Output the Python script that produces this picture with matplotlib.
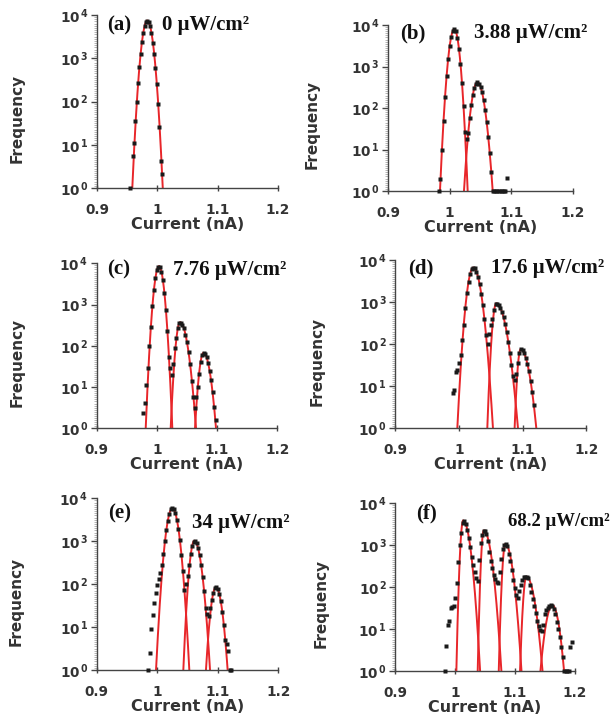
import numpy as np
import matplotlib
matplotlib.use("Agg")
import matplotlib.pyplot as plt
from matplotlib.ticker import MultipleLocator

nan = np.nan

# ---------------- data (log10 of frequency) ----------------
# dots: bins start at X0 with constant width STEP
A_X0, A_STEP = 0.9548, 0.0022
A_Y = [0.0, nan, 0.75, 1.05, 1.55, 2.0, 2.42, 2.80, 3.10, 3.38, 3.58, 3.74, 3.83, 3.86,
       3.83, 3.74, 3.58, 3.36, 3.10, 2.78, 2.40, 1.95, 1.40, 0.62, 0.32]

B_X0, B_STEP = 0.9825, 0.0025
B_Y = [0.0, 0.30, 1.00, 1.68, 2.27, 2.77, 3.17, 3.49, 3.72, 3.85, 3.90, 3.85, 3.69, 3.43,
       3.07, 2.60, 2.04, 1.42, 1.25, 1.40, 1.76, 2.07, 2.31, 2.48, 2.59, 2.62, 2.59, 2.51,
       2.38, 2.19, 1.95, 1.66, 1.31, 0.92, 0.46, 0.0, 0.0, 0.0, 0.0, 0.0, 0.0, 0.0, 0.0,
       0.0, 0.32]

C_X0, C_STEP = 0.9775, 0.0025
C_Y = [0.36, 0.62, 1.05, 1.45, 2.00, 2.46, 2.96, 3.35, 3.64, 3.83, 3.92, 3.91, 3.80, 3.59,
       3.28, 2.87, 2.36, 1.74, 1.45, 1.30, 1.55, 1.95, 2.20, 2.44, 2.56, 2.56, 2.51, 2.42,
       2.27, 2.09, 1.85, 1.57, 1.15, 0.75, 0.50, 0.75, 1.00, 1.32, 1.60, 1.77, 1.83, 1.80,
       1.72, 1.59, 1.40, 1.16, 0.87, 0.52, 0.20]

D_X0, D_STEP = 0.9900, 0.0025
D_Y = [0.85, 0.92, 1.33, 1.38, 1.55, 1.75, 2.10, 2.46, 2.87, 3.21, 3.48, 3.67, 3.78, 3.82,
       3.80, 3.72, 3.59, 3.42, 3.19, 2.92, 2.60, 2.22, 2.00, 2.25, 2.45, 2.60, 2.80, 2.95,
       2.96, 2.93, 2.86, 2.77, 2.64, 2.48, 2.28, 2.06, 1.80, 1.51, 1.25, 1.15, 1.30, 1.55,
       1.80, 1.88, 1.85, 1.78, 1.68, 1.53, 1.35, 1.12, 0.86, 0.56]

E_X0, E_STEP = 0.9850, 0.0025
E_Y = [0.00, 0.40, 0.95, 1.28, 1.55, 1.80, 1.98, 2.12, 2.25, 2.45, 2.70, 3.00, 3.25, 3.48,
       3.64, 3.74, 3.77, 3.74, 3.65, 3.50, 3.29, 3.02, 2.69, 2.30, 1.87, 2.00, 2.20, 2.45,
       2.70, 2.88, 2.99, 3.00, 2.95, 2.84, 2.67, 2.45, 2.17, 1.83, 1.44, 1.30, 1.25, 1.45,
       1.62, 1.79, 1.90, 1.93, 1.88, 1.77, 1.60, 1.36, 1.05, 0.69, 0.60, 0.45, 0.00, 0.00]

F_X0, F_STEP = 0.9825, 0.0025
F_Y = [0.00, 0.60, 1.10, 1.20, 1.50, 1.52, 1.55, 1.75, 2.10, 2.60, 3.00, 3.30, 3.52, 3.58,
       3.50, 3.36, 3.17, 2.96, 2.72, 2.52, 2.35, 2.22, 2.15, 2.65, 3.05, 3.25, 3.34, 3.33,
       3.27, 3.10, 2.85, 2.62, 2.45, 2.30, 2.20, 2.12, 2.10, 2.35, 2.68, 2.90, 3.00, 3.03,
       2.98, 2.80, 2.62, 2.40, 2.18, 1.98, 1.82, 1.75, 1.90, 2.05, 2.18, 2.24, 2.25, 2.24,
       2.22, 2.05, 1.88, 1.72, 1.55, 1.38, 1.20, 1.08, 0.98, 0.95, 1.10, 1.35, 1.45, 1.50,
       1.54, 1.57, 1.56, 1.48, 1.36, 1.18, 1.00, 0.82, 0.58, 0.34, 0.00, 0.00, 0.00, 0.00,
       0.58, 0.70]

# fitted peaks: centre, log10 height, left half-width, right half-width (at 10^0)
A_PEAKS = [(0.9834, 3.87, 0.0249, 0.0256)]
B_PEAKS = [(1.0075, 3.90, 0.0232, 0.0217), (1.0450, 2.62, 0.0218, 0.0248)]
C_PEAKS = [(1.0035, 3.93, 0.0221, 0.0221), (1.0385, 2.57, 0.0156, 0.0265),
           (1.0775, 1.83, 0.0142, 0.0207)]
D_PEAKS = [(1.0225, 3.82, 0.0251, 0.0309), (1.0586, 2.97, 0.0141, 0.0341),
           (1.0969, 1.88, 0.0095, 0.0246)]
E_PEAKS = [(1.0250, 3.77, 0.0270, 0.0280), (1.0613, 3.01, 0.0182, 0.0259),
           (1.0970, 1.93, 0.0165, 0.0193)]
F_PEAKS = [(1.0135, 3.59, 0.0114, 0.0283), (1.0480, 3.35, 0.0102, 0.0294),
           (1.0840, 3.03, 0.0110, 0.0270), (1.1192, 2.25, 0.0106, 0.0270),
           (1.1627, 1.57, 0.0200, 0.0195)]

LETTERS = ["(a)", "(b)", "(c)", "(d)", "(e)", "(f)"]
INTENSITY = ["0 μW/cm²", "3.88 μW/cm²", "7.76 μW/cm²", "17.6 μW/cm²",
             "34 μW/cm²", "68.2 μW/cm²"]
X_TICKS = [0.9, 1.0, 1.1, 1.2]
X_TICKLABELS = ["0.9", "1", "1.1", "1.2"]
Y_TICKS = [0, 1, 2, 3, 4]

# ---------------- layout ----------------
W, H = 616, 724
boxes = [(97, 15, 278, 188), (388, 25, 573, 191),
         (96.7, 263.3, 277.3, 428.3), (395.3, 260, 586.3, 428.3),
         (96.7, 498.3, 278.3, 670), (395.3, 503.3, 574.7, 671)]
letter_pos = [(0.055, 0.94), (0.063, 0.95), (0.055, 0.96), (0.066, 0.95), (0.064, 0.91), (0.117, 0.94)]
intens_pos = [(0.36, 0.94), (0.463, 0.95), (0.424, 0.96), (0.50, 0.95), (0.523, 0.855), (0.63, 0.89)]
intens_size = [15, 15, 15, 15, 15, 13.5]
ylab_x = [-0.40, -0.37, -0.40, -0.37, -0.40, -0.37]

panels = [(A_X0, A_STEP, A_Y, A_PEAKS), (B_X0, B_STEP, B_Y, B_PEAKS),
          (C_X0, C_STEP, C_Y, C_PEAKS), (D_X0, D_STEP, D_Y, D_PEAKS),
          (E_X0, E_STEP, E_Y, E_PEAKS), (F_X0, F_STEP, F_Y, F_PEAKS)]

plt.rcParams["mathtext.fontset"] = "dejavusans"
fig = plt.figure(figsize=(W / 100, H / 100), dpi=100)
TXT = "#333333"
RED = "#e8262a"

for k, ((x0, st, ys, peaks), (l, t, r, b)) in enumerate(zip(panels, boxes)):
    ax = fig.add_axes([l / W, 1 - b / H, (r - l) / W, (b - t) / H])
    ax.set_xlim(0.9, 1.2)
    ax.set_ylim(0, 4)
    for s in ("top", "right"):
        ax.spines[s].set_visible(False)
    for s in ("left", "bottom"):
        ax.spines[s].set_color("#444444")
        ax.spines[s].set_linewidth(1.0)

    # fitted curves
    for (c, A, wl, wr) in peaks:
        xl = np.linspace(c - wl, c, 80)
        xr = np.linspace(c, c + wr, 80)
        yl = A * (1 - ((xl - c) / wl) ** 2)
        yr = A * (1 - ((xr - c) / wr) ** 2)
        ax.plot(np.concatenate([xl, xr]), np.concatenate([yl, yr]),
                color=RED, lw=1.4, zorder=2)

    # data dots
    yarr = np.array(ys, dtype=float)
    xarr = x0 + st * np.arange(len(yarr))
    ax.plot(xarr, yarr, "s", ms=2.5, color="#1a1a1a", mec="none",
            clip_on=False, zorder=4)

    ax.set_xticks(X_TICKS)
    ax.set_xticklabels(X_TICKLABELS, fontweight="bold")
    ax.set_yticks(Y_TICKS)
    ax.set_yticklabels([r"$\mathbf{10}^{\,\mathbf{%d}}$" % v for v in Y_TICKS])
    ax.yaxis.set_minor_locator(MultipleLocator(0.05))
    ax.tick_params(axis="y", which="major", direction="out", length=4, width=1,
                   color="#444444", labelcolor=TXT, labelsize=9.8, pad=2)
    ax.tick_params(axis="y", which="minor", direction="out", length=2, width=0.5,
                   color="#999999")
    ax.tick_params(axis="x", which="major", direction="inout", length=5, width=1,
                   color="#444444", labelcolor=TXT, labelsize=9.8, pad=8)

    ax.set_xlabel("Current (nA)", fontsize=11.5, fontweight="bold", color=TXT, labelpad=0)
    ax.set_ylabel("Frequency", fontsize=11, fontweight="bold", color=TXT)
    ax.yaxis.set_label_coords(ylab_x[k], 0.40)

    ax.text(*letter_pos[k], LETTERS[k], transform=ax.transAxes, va="center", ha="left",
            fontfamily="Liberation Serif", fontweight="bold", fontsize=15, color="#111111")
    ax.text(*intens_pos[k], INTENSITY[k], transform=ax.transAxes, va="center", ha="left",
            fontfamily="Liberation Serif", fontweight="bold", fontsize=intens_size[k],
            color="#111111", clip_on=False)

fig.savefig("out.png", dpi=100)
